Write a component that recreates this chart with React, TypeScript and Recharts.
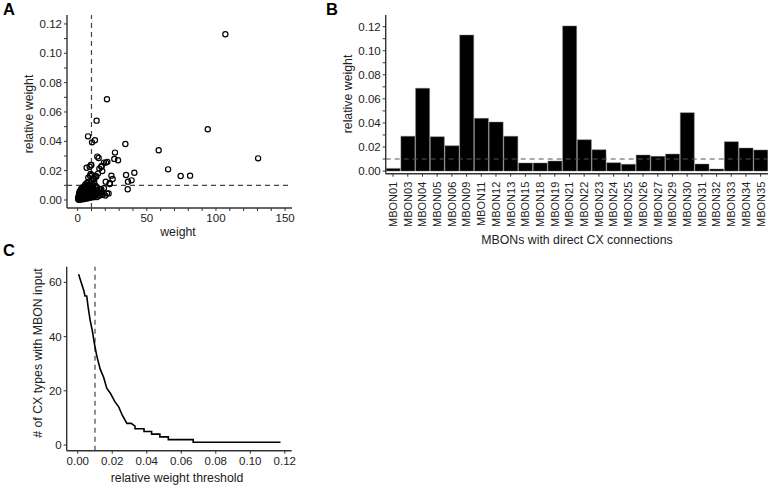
import { ScatterChart, Scatter, BarChart, Bar, LineChart, Line, XAxis, YAxis, ReferenceLine } from 'recharts';

const FONT = '"Liberation Sans", Arial, Helvetica, sans-serif';
const AXIS = '#333';
const DASH = '#444';

// Panel A: weight vs relative weight (one entry per MBON -> CX type pair)
const scatterWeight = [
  106.8, 21.2, 13.7, 7.5, 10.4, 12.5, 34.5, 94.1, 58.6, 130.5,
  27, 26.5, 29.2, 14.2, 15.2, 19, 20.5, 21.5, 17.4, 9.6,
  6.5, 15.7, 17.8, 35, 41, 24.4, 25.3, 23.2, 20.3, 39,
  36.2, 65.4, 74.5, 81.3, 13, 9.4, 7.7, 12, 21.2, 19,
  17.1, 9.9, 17.1, 8.7, 10.4, 14.7, 36.4, 23.2, 22.4, 17.1,
  0.5, 1, 1.5, 2, 2.5, 3, 3.5, 4, 4.5, 5,
  5.5, 6, 6.5, 7, 7.5, 8, 8.5, 9, 9.5, 10,
  10.5, 11, 12, 13, 14, 15, 16, 1, 2, 3,
  4, 5, 6, 7, 8, 9, 10, 11, 12, 13,
  14, 1.5, 2.5, 3.5, 4.5, 5.5, 6.5, 8, 10, 12,
  0.5, 1, 2, 3, 4, 5, 6, 7, 8, 9,
  11, 13, 15, 17, 18, 20, 0.8, 1.8, 3, 4.5,
  6, 7.5, 9, 11, 12.5, 2, 5, 8, 0.3, 10,
  15.5, 12, 14, 16, 11.5, 13.5, 9, 7,
];
const scatterRelWeight = [
  0.113, 0.0687, 0.0541, 0.0434, 0.0393, 0.0407, 0.0382, 0.0482, 0.0339, 0.0284,
  0.0323, 0.028, 0.0271, 0.0296, 0.0286, 0.0255, 0.0255, 0.026, 0.0232, 0.0239,
  0.022, 0.0214, 0.0198, 0.017, 0.0186, 0.0166, 0.0143, 0.0109, 0.0125, 0.0134,
  0.0073, 0.0209, 0.0164, 0.0166, 0.0164, 0.0177, 0.0152, 0.0141, 0.0045, 0.008,
  0.0059, 0.0239, 0.0227, 0.0227, 0.017, 0.018, 0.0125, 0.0114, 0.0045, 0.0073,
  0.0005, 0.001, 0.0015, 0.0008, 0.002, 0.001, 0.003, 0.0015, 0.0025, 0.002,
  0.004, 0.003, 0.0055, 0.0045, 0.003, 0.006, 0.0035, 0.0075, 0.005, 0.0025,
  0.0065, 0.004, 0.003, 0.0045, 0.002, 0.0035, 0.003, 0.003, 0.004, 0.005,
  0.0065, 0.0075, 0.0085, 0.01, 0.009, 0.0105, 0.0095, 0.0085, 0.0075, 0.0095,
  0.0065, 0.006, 0.0075, 0.0085, 0.009, 0.0105, 0.0115, 0.0125, 0.0135, 0.012,
  0.002, 0.0045, 0.0055, 0.007, 0.0045, 0.0055, 0.006, 0.007, 0.0075, 0.0085,
  0.0105, 0.0065, 0.0055, 0.0045, 0.0035, 0.003, 0.0002, 0.0003, 0.0004, 0.0006,
  0.001, 0.0012, 0.0015, 0.0018, 0.002, 0.0012, 0.0009, 0.002, 0.001, 0.0045,
  0.0045, 0.0055, 0.0085, 0.0075, 0.0148, 0.016, 0.0165, 0.0115,
];
const weightTicks = [0, 10, 20, 30, 40, 50, 60, 70, 80, 90, 100, 110, 120, 130, 140, 150];
const relTicks = [0, 0.01, 0.02, 0.03, 0.04, 0.05, 0.06, 0.07, 0.08, 0.09, 0.1, 0.11, 0.12];

// Panel B: relative weight per MBON
const mbonNames = [
  'MBON01', 'MBON03', 'MBON04', 'MBON05', 'MBON06', 'MBON09', 'MBON11', 'MBON12', 'MBON13',
  'MBON15', 'MBON18', 'MBON19', 'MBON21', 'MBON22', 'MBON23', 'MBON24', 'MBON25', 'MBON26',
  'MBON27', 'MBON29', 'MBON30', 'MBON31', 'MBON32', 'MBON33', 'MBON34', 'MBON35',
];
const mbonRelWeight = [
  0.0022, 0.0289, 0.0688, 0.0285, 0.021, 0.113, 0.0438, 0.0407, 0.0289,
  0.0067, 0.0067, 0.0083, 0.1206, 0.026, 0.0177, 0.0069, 0.0056, 0.0133,
  0.0122, 0.0141, 0.0485, 0.0058, 0.0017, 0.0244, 0.0191, 0.0175,
];

// Panel C: # of CX types with MBON input above threshold
const thresholds = [
  0.0005, 0.002, 0.0035, 0.0042, 0.0052, 0.006, 0.0072, 0.0085, 0.0095, 0.011,
  0.013, 0.015, 0.0168, 0.019, 0.0215, 0.0238, 0.0258, 0.0285, 0.031, 0.0332,
  0.0332, 0.0384, 0.0384, 0.0428, 0.0428, 0.0476, 0.0476, 0.0525, 0.0525, 0.0669,
  0.0669, 0.1175,
];
const cxTypeCounts = [
  63, 60, 57, 55, 55, 51, 46, 42, 38, 33,
  28, 25, 21, 19, 16, 14, 11, 8, 8, 7,
  6, 6, 5, 5, 4, 4, 3, 3, 2, 2,
  1, 1,
];
const thresholdTicks = [0, 0.02, 0.04, 0.06, 0.08, 0.1, 0.12];
const countTicks = [0, 20, 40, 60];

const scatterData = scatterWeight.map((w, i) => ({ w, r: scatterRelWeight[i] }));
const barData = mbonNames.map((name, i) => ({ name, value: mbonRelWeight[i] }));
const curveData = thresholds.map((t, i) => ({ t, n: cxTypeCounts[i] }));

const tickStyle = { fill: '#222', fontSize: 11.5, fontFamily: FONT };
const axisLine = { stroke: AXIS, strokeWidth: 1.4 };
const tickLine = { stroke: AXIS, strokeWidth: 1 };

const relLabel = (v: number) => (Math.round(v * 100) % 2 === 0 ? v.toFixed(2) : '');

const Ring = (p: any) => (
  <circle cx={p.cx} cy={p.cy} r={2.6} fill="none" stroke="#000" strokeWidth={1.2} />
);

const MbonTick = ({ x, y, payload }: any) => (
  <g transform={`translate(${x},${y + 3})`}>
    <text transform="rotate(-90)" textAnchor="end" dy="0.35em" fontSize={11} fontFamily={FONT} fill="#222">
      {payload.value}
    </text>
  </g>
);

const Title = ({ x, y, text, rotate = false }: { x: number; y: number; text: string; rotate?: boolean }) => (
  <div
    style={{
      position: 'absolute',
      left: x,
      top: y,
      transform: `translate(-50%, -50%)${rotate ? ' rotate(-90deg)' : ''}`,
      whiteSpace: 'nowrap',
      fontSize: 12.3,
      fontFamily: FONT,
      color: '#222',
    }}
  >
    {text}
  </div>
);

const PanelLetter = ({ x, y, text }: { x: number; y: number; text: string }) => (
  <div style={{ position: 'absolute', left: x, top: y, fontSize: 16.5, fontWeight: 'bold', fontFamily: FONT, lineHeight: 1 }}>
    {text}
  </div>
);

export default function App() {
  return (
    <div style={{ position: 'absolute', left: 0, top: 0, width: 768, height: 487, background: '#fff', overflow: 'hidden' }}>
      {/* A */}
      <div style={{ position: 'absolute', left: 0, top: 0 }}>
        <ScatterChart width={300} height={240} margin={{ top: 15, right: 8, bottom: 0, left: 0 }}>
          <XAxis
            type="number"
            dataKey="w"
            domain={[-7.7, 155]}
            allowDataOverflow
            ticks={weightTicks}
            interval={0}
            tickFormatter={(v) => (v % 50 === 0 ? String(v) : '')}
            height={32}
            tick={tickStyle}
            tickSize={3}
            tickMargin={3}
            axisLine={axisLine}
            tickLine={tickLine}
          />
          <YAxis
            type="number"
            dataKey="r"
            domain={[-0.00545, 0.1261]}
            allowDataOverflow
            ticks={relTicks}
            interval={0}
            tickFormatter={relLabel}
            width={67}
            tick={tickStyle}
            tickSize={3}
            tickMargin={2}
            axisLine={axisLine}
            tickLine={tickLine}
          />
          <ReferenceLine x={10} stroke={DASH} strokeWidth={1.2} strokeDasharray="5 4" />
          <ReferenceLine y={0.01} stroke={DASH} strokeWidth={1.2} strokeDasharray="5 4" />
          <Scatter data={scatterData} shape={Ring} isAnimationActive={false} />
        </ScatterChart>
      </div>

      {/* B */}
      <div style={{ position: 'absolute', left: 300, top: 0 }}>
        <BarChart width={468} height={250} data={barData} margin={{ top: 15, right: 0, bottom: 0, left: 0 }} barCategoryGap={0.5}>
          <XAxis
            dataKey="name"
            interval={0}
            height={76.3}
            tick={<MbonTick />}
            tickSize={3}
            axisLine={axisLine}
            tickLine={tickLine}
          />
          <YAxis
            type="number"
            domain={[-0.0022, 0.1297]}
            allowDataOverflow
            ticks={relTicks}
            interval={0}
            tickFormatter={relLabel}
            width={85.7}
            tick={tickStyle}
            tickSize={3}
            tickMargin={2}
            axisLine={axisLine}
            tickLine={tickLine}
          />
          <Bar dataKey="value" fill="#000" stroke="#777" strokeWidth={0.5} isAnimationActive={false} />
          <ReferenceLine y={0.01} stroke="#555" strokeWidth={1.2} strokeDasharray="5 4" />
        </BarChart>
      </div>

      {/* C */}
      <div style={{ position: 'absolute', left: 0, top: 240 }}>
        <LineChart width={300} height={247} data={curveData} margin={{ top: 26.7, right: 8.3, bottom: 0, left: 0 }}>
          <XAxis
            type="number"
            dataKey="t"
            domain={[-0.0064, 0.124]}
            allowDataOverflow
            ticks={thresholdTicks}
            interval={0}
            tickFormatter={(v) => v.toFixed(2)}
            height={36.3}
            tick={tickStyle}
            tickSize={3}
            tickMargin={3}
            axisLine={axisLine}
            tickLine={tickLine}
          />
          <YAxis
            type="number"
            domain={[-2.1, 65.8]}
            allowDataOverflow
            ticks={countTicks}
            interval={0}
            width={66.7}
            tick={tickStyle}
            tickSize={3}
            tickMargin={2}
            axisLine={axisLine}
            tickLine={tickLine}
          />
          <ReferenceLine x={0.01} stroke={DASH} strokeWidth={1.2} strokeDasharray="5 4" />
          <Line type="linear" dataKey="n" stroke="#000" strokeWidth={1.6} dot={false} isAnimationActive={false} />
        </LineChart>
      </div>

      <PanelLetter x={3} y={1} text="A" />
      <PanelLetter x={326} y={1} text="B" />
      <PanelLetter x={3} y={242} text="C" />

      <Title x={178} y={232} text="weight" />
      <Title x={29} y={114} text="relative weight" rotate />
      <Title x={348} y={94} text="relative weight" rotate />
      <Title x={577} y={240} text="MBONs with direct CX connections" />
      <Title x={38} y={353} text="# of CX types with MBON input" rotate />
      <Title x={177} y={478} text="relative weight threshold" />
    </div>
  );
}
